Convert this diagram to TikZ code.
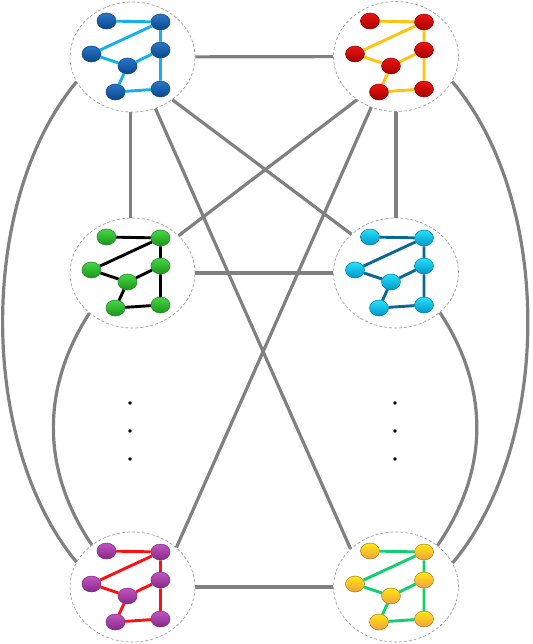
\documentclass[tikz,border=0pt]{standalone}
\usetikzlibrary{shapes.geometric}
\definecolor{conn}{HTML}{808080}
\definecolor{ringc}{HTML}{A0A0A0}
\definecolor{eB}{RGB}{18,176,236}
\definecolor{eR}{RGB}{255,194,14}
\definecolor{eC}{RGB}{11,104,144}
\definecolor{eP}{RGB}{255,16,16}
\definecolor{eY}{RGB}{16,208,112}
\definecolor{bBt}{RGB}{40,120,200}\definecolor{bBb}{RGB}{10,70,140}\definecolor{bBd}{RGB}{10,60,120}
\definecolor{bRt}{RGB}{240,20,20}\definecolor{bRb}{RGB}{160,0,0}\definecolor{bRd}{RGB}{140,0,0}
\definecolor{bGt}{RGB}{70,215,70}\definecolor{bGb}{RGB}{26,150,26}\definecolor{bGd}{RGB}{26,128,26}
\definecolor{bCt}{RGB}{40,225,248}\definecolor{bCb}{RGB}{0,150,200}\definecolor{bCd}{RGB}{0,120,170}
\definecolor{bPt}{RGB}{195,85,195}\definecolor{bPb}{RGB}{135,40,135}\definecolor{bPd}{RGB}{120,40,120}
\definecolor{bYt}{RGB}{255,232,16}\definecolor{bYb}{RGB}{240,160,64}\definecolor{bYd}{RGB}{160,125,30}
\tikzset{
  bigc/.style={ellipse, draw=ringc, dash pattern=on 3pt off 2pt, line width=0.7pt, minimum width=125pt, minimum height=110pt, inner sep=0pt},
  link/.style={draw=conn, line width=3.2pt},
  ball/.style={ellipse, minimum width=19pt, minimum height=16pt, inner sep=0pt, line width=0.5pt},
  ballB/.style={ball, draw=bBd, top color=bBt, bottom color=bBb},
  ballR/.style={ball, draw=bRd, top color=bRt, bottom color=bRb},
  ballG/.style={ball, draw=bGd, top color=bGt, bottom color=bGb},
  ballC/.style={ball, draw=bCd, top color=bCt, bottom color=bCb},
  ballP/.style={ball, draw=bPd, top color=bPt, bottom color=bPb},
  ballY/.style={ball, draw=bYd, top color=bYt, bottom color=bYb},
  dotn/.style={circle, fill=black, minimum size=3.6pt, inner sep=0pt},
}
\newcommand{\minigraph}[4]{%
  \begin{scope}[shift={#2}]
    \node[#4] (#1a) at (-26,-36) {};
    \node[#4] (#1b) at (28,-35) {};
    \node[#4] (#1c) at (-41,-3) {};
    \node[#4] (#1d) at (28,-7) {};
    \node[#4] (#1e) at (-5,9) {};
    \node[#4] (#1f) at (-17,35) {};
    \node[#4] (#1g) at (28,32) {};
    \draw[draw=#3, line width=2.9pt] (#1a) -- (#1b) (#1b) -- (#1c) (#1b) -- (#1d)
      (#1c) -- (#1e) (#1e) -- (#1d) (#1d) -- (#1g) (#1e) -- (#1f) (#1f) -- (#1g);
  \end{scope}}
\begin{document}
\begin{tikzpicture}[x=1pt,y=-1pt]
\useasboundingbox (0,0) rectangle (532,644);
% big rings
\node[bigc] (tl) at (132.5,57) {};
\node[bigc] (tr) at (396,56.5) {};
\node[bigc] (ml) at (132.5,273) {};
\node[bigc] (mr) at (396,273) {};
\node[bigc] (bl) at (132.5,587) {};
\node[bigc] (br) at (396,587) {};
% straight links
\draw[link] (tl) -- (tr);
\draw[link] (ml) -- (mr);
\draw[link] (bl) -- (br);
\draw[link] (tl.268) -- (ml.92);
\draw[link] (tr) -- (mr);
\draw[link] (tl.-47) -- (mr.139);
\draw[link] (tl.-66) -- (br.140);
\draw[link] (tr.228) -- (ml.39);
\draw[link] (tr.244) -- (bl.42);
% curved links
\draw[link] (tl.204) .. controls (-22,200) and (-22,443) .. (bl.156);
\draw[link] (ml.223) .. controls (41,388) and (41,470) .. (bl.134);
\draw[link] (tr.336) .. controls (553,200) and (553,443) .. (br.23);
\draw[link] (mr.318) .. controls (489.5,388) and (489.5,470) .. (br.45);
% mini graphs
\minigraph{a}{(132.5,57)}{eB}{ballB}
\minigraph{b}{(396,57)}{eR}{ballR}
\minigraph{c}{(132.5,273)}{black}{ballG}
\minigraph{d}{(396,273)}{eC}{ballC}
\minigraph{e}{(132.5,587)}{eP}{ballP}
\minigraph{f}{(396,587)}{eY}{ballY}
% dots
\node[dotn] (l1) at (130,403) {};
\node[dotn] (l2) at (130,431) {};
\node[dotn] (l3) at (130,459) {};
\node[dotn] (r1) at (395,403) {};
\node[dotn] (r2) at (395,431) {};
\node[dotn] (r3) at (395,459) {};
\end{tikzpicture}
\end{document}
